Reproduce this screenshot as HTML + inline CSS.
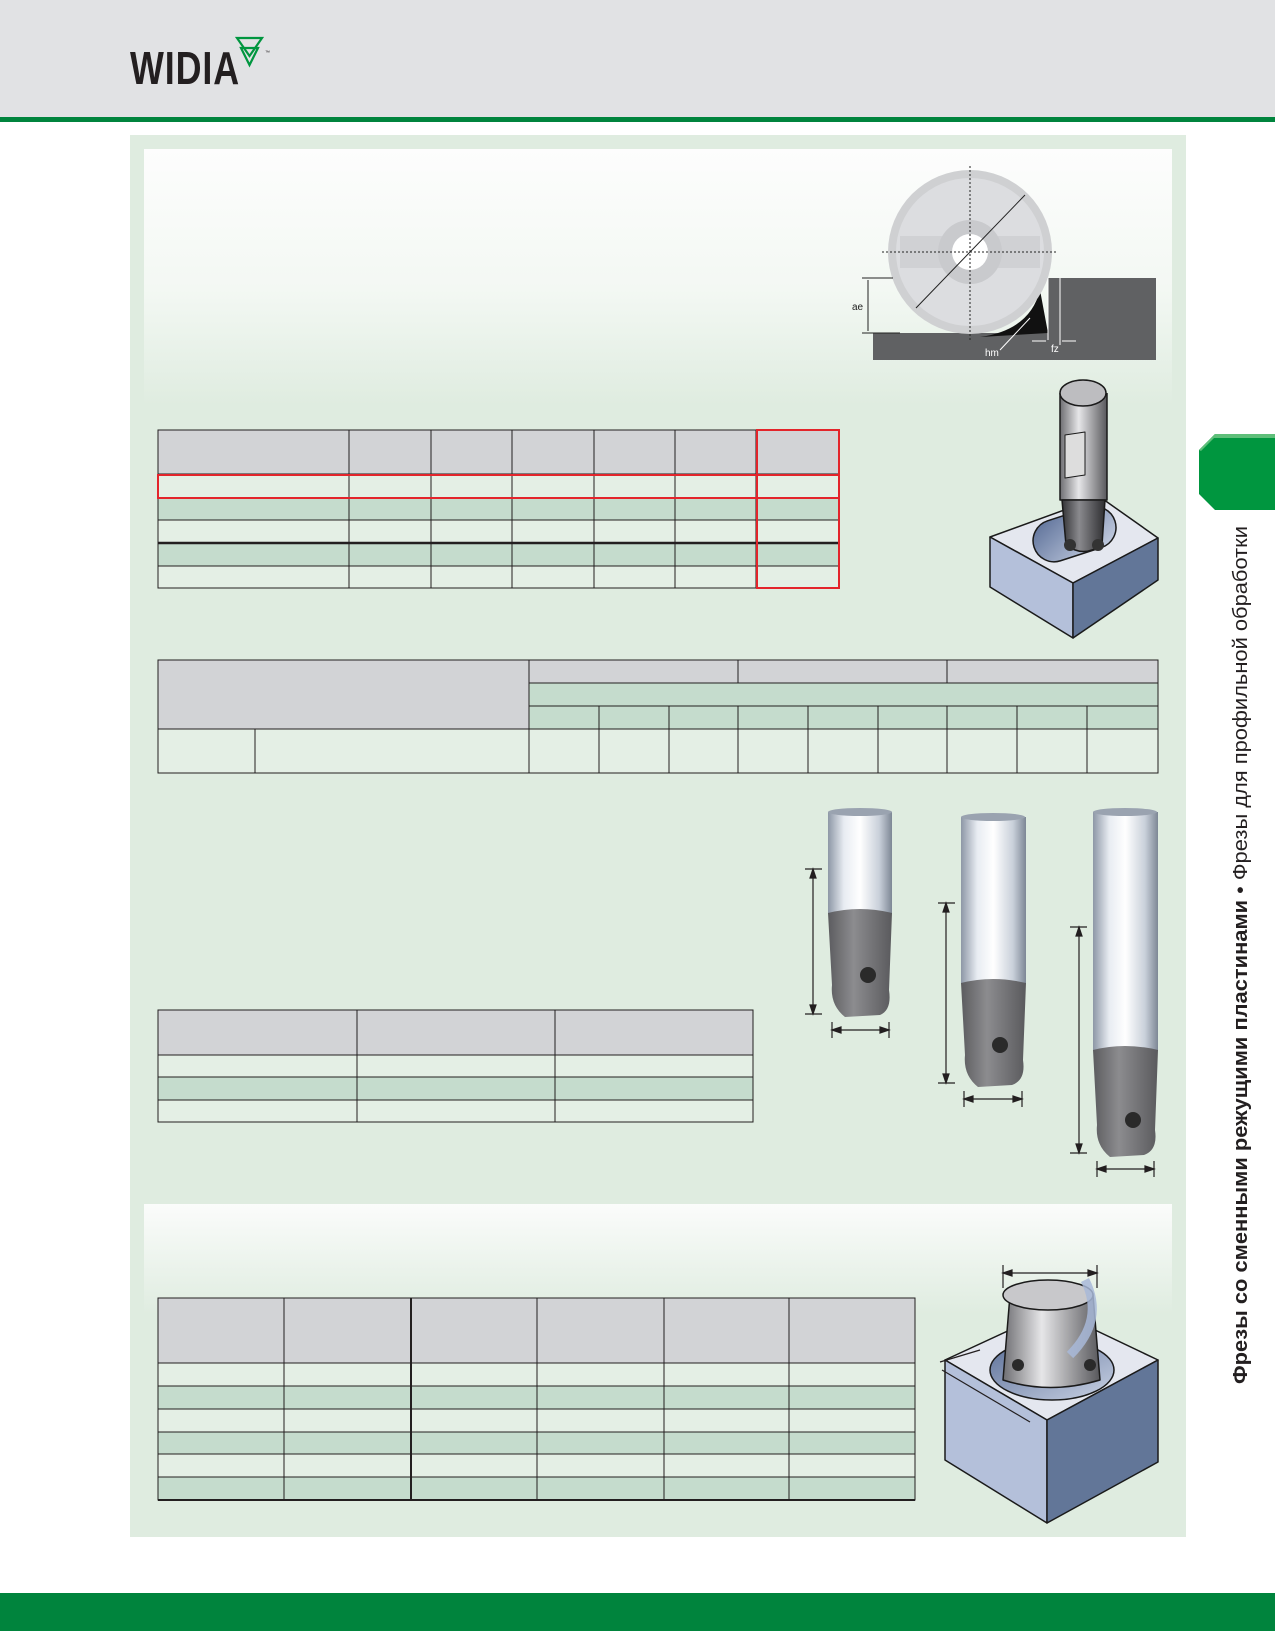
<!DOCTYPE html>
<html><head><meta charset="utf-8"><style>
html,body{margin:0;padding:0;background:#fff}
svg{display:block}
</style></head><body>
<svg width="1275" height="1631" viewBox="0 0 1275 1631" xmlns="http://www.w3.org/2000/svg" font-family="Liberation Sans, sans-serif">
<defs>
<linearGradient id="fadeTop" x1="0" y1="0" x2="0" y2="1"><stop offset="0" stop-color="#fdfdfd"/><stop offset="0.55" stop-color="#f3f8f3"/><stop offset="1" stop-color="#dfece0"/></linearGradient>
<linearGradient id="fadeBot" x1="0" y1="0" x2="0" y2="1"><stop offset="0" stop-color="#fbfcfb"/><stop offset="1" stop-color="#dfece0"/></linearGradient>
<linearGradient id="shank" x1="0" y1="0" x2="1" y2="0"><stop offset="0" stop-color="#8d97a6"/><stop offset="0.25" stop-color="#e8ecf2"/><stop offset="0.5" stop-color="#ffffff"/><stop offset="0.8" stop-color="#c9d0da"/><stop offset="1" stop-color="#7d8795"/></linearGradient>
<linearGradient id="head" x1="0" y1="0" x2="1" y2="0"><stop offset="0" stop-color="#5c5c5f"/><stop offset="0.4" stop-color="#8c8c8f"/><stop offset="1" stop-color="#5a5a5d"/></linearGradient>
<linearGradient id="cyl" x1="0" y1="0" x2="1" y2="0"><stop offset="0" stop-color="#6e6e72"/><stop offset="0.4" stop-color="#e6e6e8"/><stop offset="1" stop-color="#58585c"/></linearGradient>
<linearGradient id="cyld" x1="0" y1="0" x2="1" y2="0"><stop offset="0" stop-color="#333336"/><stop offset="0.4" stop-color="#8a8a8e"/><stop offset="1" stop-color="#2e2e31"/></linearGradient>
<linearGradient id="pocket" x1="0" y1="0" x2="1" y2="1"><stop offset="0" stop-color="#5b6f98"/><stop offset="1" stop-color="#c9d2e4"/></linearGradient>
</defs>

<!-- header -->
<rect x="0" y="0" width="1275" height="118" fill="#e1e2e4"/>
<rect x="0" y="117" width="1275" height="5" fill="#00843d"/>
<text x="130" y="84" font-size="46" font-weight="bold" fill="#231f20" transform="translate(130 0) scale(0.78 1) translate(-130 0)" textLength="140">WIDIA</text>
<polygon points="237,38 262,38 249.5,56" fill="none" stroke="#00963f" stroke-width="2.2"/>
<polygon points="241,48 258,48 249.5,65" fill="none" stroke="#00963f" stroke-width="2.2"/>
<text x="265" y="54" font-size="5" fill="#231f20">™</text>

<!-- main green panel -->
<rect x="130" y="135" width="1056" height="1402" fill="#dfece0"/>
<rect x="144" y="149" width="1028" height="256" fill="url(#fadeTop)"/>
<rect x="144" y="1204" width="1028" height="110" fill="url(#fadeBot)"/>

<!-- side tab -->
<polygon points="1215,434 1275,434 1275,510 1215,510 1199,494 1199,450" fill="#00963f"/>
<polygon points="1215,434 1275,434 1275,438 1214,438 1201,451 1199,450" fill="#5fbf7a"/>
<text transform="translate(1247 1384) rotate(-90)" font-size="20" fill="#231f20" textLength="858" lengthAdjust="spacingAndGlyphs"><tspan font-weight="bold">Фрезы со сменными режущими пластинами</tspan> • Фрезы для профильной обработки</text>

<!-- disk diagram -->
<rect x="1048" y="278" width="108" height="82" fill="#606163"/>
<rect x="873" y="333" width="283" height="27" fill="#606163"/>
<path d="M1040 290 Q1030 330 980 337 L1048 333 Z" fill="#111"/>
<circle cx="970" cy="252" r="82" fill="#cfd0d2"/>
<circle cx="970" cy="252" r="74" fill="#dcdde0"/>
<rect x="900" y="236" width="140" height="32" fill="#d0d1d4"/>
<circle cx="970" cy="252" r="32" fill="#c9cacd"/>
<circle cx="970" cy="252" r="18" fill="#fff"/>
<line x1="970" y1="166" x2="970" y2="340" stroke="#222" stroke-dasharray="2,2"/>
<line x1="882" y1="252" x2="1058" y2="252" stroke="#222" stroke-dasharray="2,2"/>
<line x1="916" y1="308" x2="1025" y2="195" stroke="#222"/>
<line x1="862" y1="278" x2="893" y2="278" stroke="#222"/>
<line x1="862" y1="333" x2="900" y2="333" stroke="#222"/>
<line x1="868" y1="280" x2="868" y2="331" stroke="#222"/>
<text x="852" y="310" font-size="10" fill="#222">ae</text>
<line x1="1048" y1="278" x2="1048" y2="340" stroke="#fff"/>
<line x1="1060" y1="278" x2="1060" y2="345" stroke="#fff"/>
<line x1="1000" y1="350" x2="1030" y2="318" stroke="#fff"/>
<text x="985" y="356" font-size="10" fill="#fff">hm</text>
<text x="1051" y="352" font-size="10" fill="#fff">fz</text>
<line x1="1032" y1="341" x2="1046" y2="341" stroke="#fff"/>
<line x1="1062" y1="341" x2="1076" y2="341" stroke="#fff"/>

<!-- block 1 -->
<g stroke="#1a1a1a" stroke-width="1.5" stroke-linejoin="round">
<polygon points="990,537 1100,497 1158,538 1073,583" fill="#e4e7ef"/>
<polygon points="990,537 1073,583 1073,638 990,587" fill="#b4c0da"/>
<polygon points="1073,583 1158,538 1158,580 1073,638" fill="#627698"/>
<rect x="1032" y="513" width="85" height="42" rx="21" transform="rotate(-18 1075 534)" fill="url(#pocket)"/>
<path d="M1060 393 L1060 500 L1107 500 L1107 393" fill="url(#cyl)"/>
<path d="M1062 500 L1066 545 Q1083 558 1102 545 L1105 500 Z" fill="url(#cyld)"/>
<ellipse cx="1083" cy="393" rx="23" ry="13" fill="#bdbdc0"/>
<path d="M1065 435 L1085 432 L1085 475 L1065 478 Z" fill="#ddd" stroke-width="1"/>
</g>
<circle cx="1070" cy="545" r="6" fill="#333"/><circle cx="1098" cy="545" r="6" fill="#333"/>

<!-- table 1 -->
<g stroke="#231f20" stroke-width="1">
<rect x="158" y="430" width="681" height="44" fill="#d2d3d6"/>
<rect x="158" y="474" width="681" height="24" fill="#e4efe5"/>
<rect x="158" y="498" width="681" height="22" fill="#c5dccd"/>
<rect x="158" y="520" width="681" height="23" fill="#e4efe5"/>
<rect x="158" y="543" width="681" height="23" fill="#c5dccd"/>
<rect x="158" y="566" width="681" height="22" fill="#e4efe5"/>
<line x1="349" y1="430" x2="349" y2="588"/><line x1="431" y1="430" x2="431" y2="588"/><line x1="512" y1="430" x2="512" y2="588"/><line x1="594" y1="430" x2="594" y2="588"/><line x1="675" y1="430" x2="675" y2="588"/><line x1="756" y1="430" x2="756" y2="588"/>
<line x1="158" y1="543" x2="839" y2="543" stroke-width="2.5"/>
</g>
<g fill="none" stroke="#e3242b" stroke-width="2">
<rect x="158" y="475" width="681" height="23"/>
<rect x="757" y="430" width="82" height="158"/>
</g>

<!-- table 2 -->
<g stroke="#231f20" stroke-width="1">
<rect x="158" y="660" width="1000" height="113" fill="#d2d3d6"/>
<rect x="529" y="683" width="629" height="46" fill="#c5dccd"/>
<rect x="158" y="729" width="1000" height="44" fill="#e4efe5"/>
<line x1="529" y1="683" x2="1158" y2="683"/><line x1="529" y1="706" x2="1158" y2="706"/><line x1="158" y1="729" x2="1158" y2="729"/>
<line x1="529" y1="660" x2="529" y2="773"/><line x1="738" y1="660" x2="738" y2="683"/><line x1="947" y1="660" x2="947" y2="683"/>
<line x1="255" y1="729" x2="255" y2="773"/>
<line x1="599" y1="706" x2="599" y2="773"/><line x1="669" y1="706" x2="669" y2="773"/><line x1="738" y1="706" x2="738" y2="773"/><line x1="808" y1="706" x2="808" y2="773"/><line x1="878" y1="706" x2="878" y2="773"/><line x1="947" y1="706" x2="947" y2="773"/><line x1="1017" y1="706" x2="1017" y2="773"/><line x1="1087" y1="706" x2="1087" y2="773"/>
</g>

<!-- end mills -->
<g>
<rect x="828" y="812" width="64" height="102" fill="url(#shank)"/><ellipse cx="860" cy="812" rx="32" ry="4" fill="#9aa3b0"/>
<path d="M828 913 Q860 905 892 913 L889 990 Q892 1010 880 1015 L845 1017 Q830 1005 832 985 Z" fill="url(#head)"/>
<rect x="961" y="817" width="65" height="167" fill="url(#shank)"/><ellipse cx="993" cy="817" rx="32" ry="4" fill="#9aa3b0"/>
<path d="M961 983 Q993 975 1026 983 L1023 1060 Q1026 1080 1012 1085 L978 1087 Q963 1075 965 1055 Z" fill="url(#head)"/>
<rect x="1093" y="812" width="65" height="239" fill="url(#shank)"/><ellipse cx="1125" cy="812" rx="32" ry="4" fill="#9aa3b0"/>
<path d="M1093 1050 Q1125 1042 1158 1050 L1155 1130 Q1158 1150 1144 1155 L1110 1157 Q1095 1145 1097 1125 Z" fill="url(#head)"/>
<g fill="#2a2a2a"><circle cx="868" cy="975" r="8"/><circle cx="1000" cy="1045" r="8"/><circle cx="1133" cy="1120" r="8"/></g>
<g stroke="#231f20" stroke-width="1.2" fill="#231f20">
<line x1="805" y1="869" x2="822" y2="869"/><line x1="805" y1="1014" x2="822" y2="1014"/><line x1="813" y1="872" x2="813" y2="1011"/>
<polygon points="813,869 810,878 816,878"/><polygon points="813,1014 810,1005 816,1005"/>
<line x1="832" y1="1022" x2="832" y2="1038"/><line x1="889" y1="1022" x2="889" y2="1038"/><line x1="835" y1="1030" x2="886" y2="1030"/>
<polygon points="832,1030 841,1027 841,1033"/><polygon points="889,1030 880,1027 880,1033"/>
<line x1="938" y1="903" x2="955" y2="903"/><line x1="938" y1="1083" x2="955" y2="1083"/><line x1="946" y1="906" x2="946" y2="1080"/>
<polygon points="946,903 943,912 949,912"/><polygon points="946,1083 943,1074 949,1074"/>
<line x1="964" y1="1091" x2="964" y2="1107"/><line x1="1022" y1="1091" x2="1022" y2="1107"/><line x1="967" y1="1099" x2="1019" y2="1099"/>
<polygon points="964,1099 973,1096 973,1102"/><polygon points="1022,1099 1013,1096 1013,1102"/>
<line x1="1070" y1="927" x2="1087" y2="927"/><line x1="1070" y1="1153" x2="1087" y2="1153"/><line x1="1079" y1="930" x2="1079" y2="1150"/>
<polygon points="1079,927 1076,936 1082,936"/><polygon points="1079,1153 1076,1144 1082,1144"/>
<line x1="1097" y1="1161" x2="1097" y2="1177"/><line x1="1154" y1="1161" x2="1154" y2="1177"/><line x1="1100" y1="1169" x2="1151" y2="1169"/>
<polygon points="1097,1169 1106,1166 1106,1172"/><polygon points="1154,1169 1145,1166 1145,1172"/>
</g>
</g>

<!-- table 3 -->
<g stroke="#231f20" stroke-width="1">
<rect x="158" y="1010" width="595" height="45" fill="#d2d3d6"/>
<rect x="158" y="1055" width="595" height="22" fill="#e4efe5"/>
<rect x="158" y="1077" width="595" height="23" fill="#c5dccd"/>
<rect x="158" y="1100" width="595" height="22" fill="#e4efe5"/>
<line x1="357" y1="1010" x2="357" y2="1122"/><line x1="555" y1="1010" x2="555" y2="1122"/>
</g>

<!-- table 4 -->
<g stroke="#231f20" stroke-width="1">
<rect x="158" y="1298" width="757" height="65" fill="#d2d3d6"/>
<rect x="158" y="1363" width="757" height="23" fill="#e4efe5"/>
<rect x="158" y="1386" width="757" height="23" fill="#c5dccd"/>
<rect x="158" y="1409" width="757" height="23" fill="#e4efe5"/>
<rect x="158" y="1432" width="757" height="22" fill="#c5dccd"/>
<rect x="158" y="1454" width="757" height="23" fill="#e4efe5"/>
<rect x="158" y="1477" width="757" height="23" fill="#c5dccd"/>
<line x1="284" y1="1298" x2="284" y2="1500"/><line x1="411" y1="1298" x2="411" y2="1500" stroke-width="2"/><line x1="537" y1="1298" x2="537" y2="1500"/><line x1="664" y1="1298" x2="664" y2="1500"/><line x1="789" y1="1298" x2="789" y2="1500"/>
<line x1="158" y1="1500" x2="915" y2="1500" stroke-width="2"/>
</g>

<!-- block 2 -->
<g stroke="#1a1a1a" stroke-width="1.5" stroke-linejoin="round">
<polygon points="945,1360 1053,1310 1158,1360 1047,1420" fill="#e4e7ef"/>
<polygon points="945,1360 1047,1420 1047,1523 945,1460" fill="#b4c0da"/>
<polygon points="1047,1420 1158,1360 1158,1462 1047,1523" fill="#627698"/>
<ellipse cx="1052" cy="1370" rx="62" ry="30" fill="url(#pocket)"/>
<path d="M1010 1295 L1003 1380 Q1050 1395 1100 1380 L1093 1295 Z" fill="url(#cyl)"/>
<ellipse cx="1048" cy="1295" rx="45" ry="15" fill="#c8c8cb"/>
</g>
<path d="M1085 1280 Q1105 1320 1070 1355" fill="none" stroke="#a8b8d8" stroke-width="9" opacity="0.85"/>
<g fill="#2a2a2a"><circle cx="1018" cy="1365" r="6"/><circle cx="1090" cy="1365" r="6"/></g>
<g stroke="#231f20" stroke-width="1.2" fill="#231f20">
<line x1="1003" y1="1265" x2="1003" y2="1288"/><line x1="1097" y1="1265" x2="1097" y2="1288"/><line x1="1006" y1="1273" x2="1094" y2="1273"/>
<polygon points="1003,1273 1012,1270 1012,1276"/><polygon points="1097,1273 1088,1270 1088,1276"/>
<line x1="942" y1="1370" x2="1030" y2="1422"/>
<line x1="940" y1="1362" x2="980" y2="1350"/>
</g>

<!-- footer -->
<rect x="0" y="1593" width="1275" height="38" fill="#00843d"/>
</svg>
</body></html>
